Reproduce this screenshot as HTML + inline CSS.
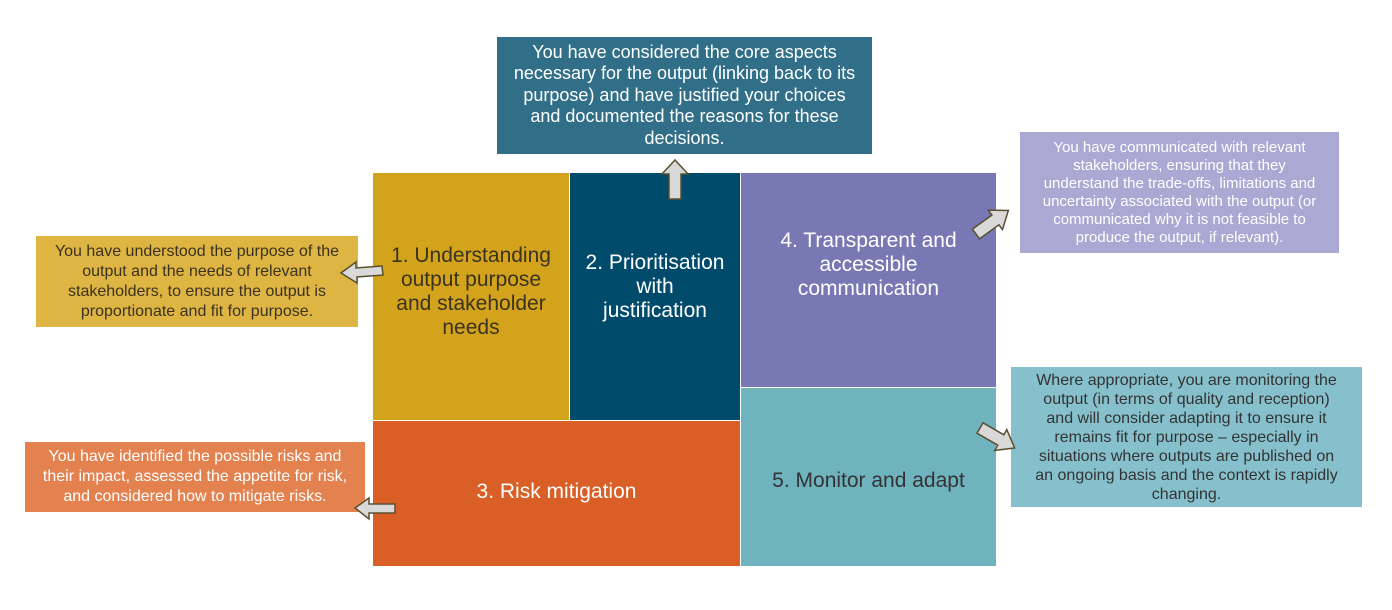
<!DOCTYPE html>
<html><head><meta charset="utf-8"><style>
body{margin:0;width:1392px;height:610px;background:#fff;position:relative;overflow:hidden;font-family:"Liberation Sans Narrow","Liberation Sans",sans-serif}
.b{position:absolute;display:flex;align-items:center;justify-content:center;text-align:center;white-space:nowrap;box-sizing:border-box}
.m{font-size:21px;line-height:24px}
.c{font-size:16px;line-height:20px}
</style></head><body>
<div class="b m" style="left:373px;top:173px;width:196px;height:247px;background:#d4a31c;color:#3a3320;padding-bottom:10px">1. Understanding<br>output purpose<br>and stakeholder<br>needs</div>
<div class="b m" style="left:570px;top:173px;width:170px;height:247px;background:#004a6b;color:#fff;padding-bottom:20px">2. Prioritisation<br>with<br>justification</div>
<div class="b m" style="left:741px;top:173px;width:255px;height:214px;background:#7878b4;color:#fff;padding-bottom:30px">4. Transparent and<br>accessible<br>communication</div>
<div class="b m" style="left:741px;top:388px;width:255px;height:178px;background:#6fb3bf;color:#333;padding-top:8px">5. Monitor and adapt</div>
<div class="b m" style="left:373px;top:421px;width:367px;height:145px;background:#d95f26;color:#fff;padding-bottom:4px">3. Risk mitigation</div>

<div class="b" style="left:497px;top:37px;width:375px;height:117px;background:#316e87;color:#fff;font-size:18px;line-height:21.5px">You have considered the core aspects<br>necessary for the output (linking back to its<br>purpose) and have justified your choices<br>and documented the reasons for these<br>decisions.</div>
<div class="b c" style="left:36px;top:236px;width:322px;height:91px;background:#deb443;color:#3a3320">You have understood the purpose of the<br>output and the needs of relevant<br>stakeholders, to ensure the output is<br>proportionate and fit for purpose.</div>
<div class="b c" style="left:25px;top:442px;width:340px;height:70px;background:#e3814f;color:#fff">You have identified the possible risks and<br>their impact, assessed the appetite for risk,<br>and considered how to mitigate risks.</div>
<div class="b" style="left:1020px;top:132px;width:319px;height:121px;background:#a9a9d3;color:#fff;font-size:15px;line-height:18px">You have communicated with relevant<br>stakeholders, ensuring that they<br>understand the trade-offs, limitations and<br>uncertainty associated with the output (or<br>communicated why it is not feasible to<br>produce the output, if relevant).</div>
<div class="b c" style="left:1011px;top:367px;width:351px;height:140px;background:#86c0cc;color:#333;line-height:19px">Where appropriate, you are monitoring the<br>output (in terms of quality and reception)<br>and will consider adapting it to ensure it<br>remains fit for purpose – especially in<br>situations where outputs are published on<br>an ongoing basis and the context is rapidly<br>changing.</div>

<svg width="1392" height="610" style="position:absolute;left:0;top:0" >
<g fill="#d9d9d9" stroke="#5a5030" stroke-width="1.5">
<polygon points="669,199 669,174 662,174 675,160 688,174 681,174 681,199"/>
<polygon points="382,266 356,268 356,262 341,273 357,283 357,277 383,275"/>
<polygon points="395,504 369,504 369,498 355,508 369,519 369,513 395,513"/>
<polygon points="0,-6 24,-6 24,-12 40,0 24,12 24,6 0,6" transform="translate(976,234) rotate(-36)"/>
<polygon points="0,-6 24,-6 24,-12 40,0 24,12 24,6 0,6" transform="translate(980,428) rotate(30)"/>
</g>
</svg>
</body></html>
